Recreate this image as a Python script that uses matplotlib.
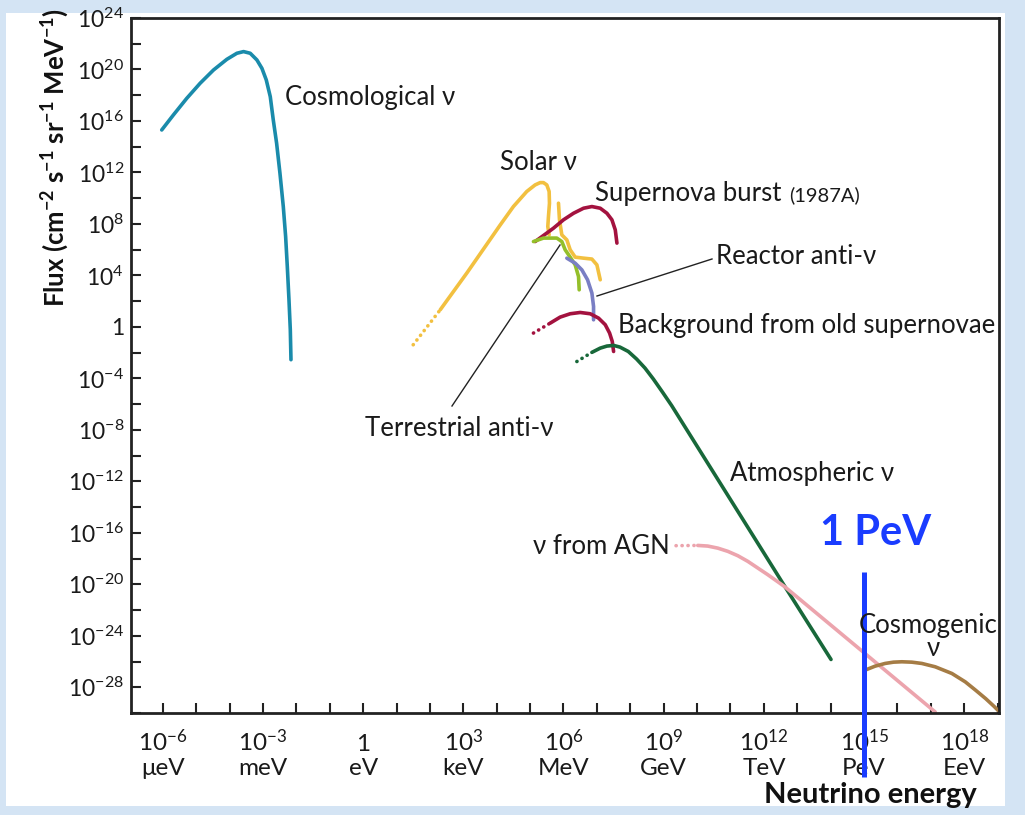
import numpy as np
import matplotlib
matplotlib.use("Agg")
import matplotlib.pyplot as plt
import matplotlib.patches as mpatches
import matplotlib.lines as mlines
import matplotlib.transforms as mtransforms
from matplotlib.ticker import FixedLocator, FixedFormatter, NullFormatter

plt.rcParams['font.family'] = ['Lato', 'DejaVu Sans']
plt.rcParams['mathtext.fontset'] = 'custom'
plt.rcParams['mathtext.rm'] = 'Lato'
plt.rcParams['mathtext.it'] = 'Lato:italic'
plt.rcParams['mathtext.bf'] = 'Lato:bold'

# ---------------- data: log10(E / eV), log10(flux) ----------------
cosmo_log_e = [-6.03, -5.68, -5.28, -4.88, -4.48, -4.08, -3.78, -3.58, -3.38, -3.18, -3.03, -2.90,
               -2.78, -2.69, -2.59, -2.49, -2.39, -2.32, -2.27, -2.22, -2.18, -2.16]
cosmo_log_f = [15.30, 16.47, 17.76, 18.93, 19.96, 20.79, 21.26, 21.39, 21.26, 20.74, 20.09, 19.19,
               17.89, 16.08, 14.27, 11.94, 9.35, 7.02, 4.69, 2.11, -0.22, -2.55]

solar_dot_log_e = [1.50, 2.31]
solar_dot_log_f = [-1.39, 1.33]
solar_log_e = [2.31, 3.11, 4.10, 4.50, 4.90, 5.15, 5.30, 5.40, 5.50, 5.57, 5.58, 5.55, 5.53, 5.57]
solar_log_f = [1.33, 4.20, 7.90, 9.35, 10.52, 11.03, 11.21, 11.21, 11.03, 10.52, 9.61, 8.58, 7.80, 7.15]
solar2_log_e = [5.85, 5.88, 5.95, 6.10, 6.20, 6.35, 6.60, 6.85, 7.00, 7.10]
solar2_log_f = [9.61, 8.32, 7.15, 6.76, 5.99, 5.42, 5.34, 5.27, 4.82, 3.66]

terr_log_e = [5.10, 5.40, 5.80, 5.95, 6.05, 6.20, 6.35, 6.45, 6.47]
terr_log_f = [6.63, 6.90, 6.90, 6.63, 5.99, 5.42, 4.82, 3.91, 2.88]

reactor_log_e = [6.10, 6.35, 6.55, 6.72, 6.85, 6.90, 6.90]
reactor_log_f = [5.34, 4.95, 4.43, 3.66, 2.63, 1.59, 0.55]

sn_log_e = [5.15, 5.40, 5.70, 6.00, 6.30, 6.60, 6.85, 7.10, 7.30, 7.45, 7.55, 7.60]
sn_log_f = [6.63, 7.10, 7.67, 8.32, 8.83, 9.22, 9.35, 9.22, 8.83, 8.32, 7.54, 6.51]

bg_dot_log_e = [5.10, 5.60]
bg_dot_log_f = [-0.48, 0.29]
bg_log_e = [5.60, 5.90, 6.20, 6.50, 6.80, 7.05, 7.25, 7.38, 7.46, 7.50]
bg_log_f = [0.29, 0.76, 1.02, 1.12, 1.02, 0.68, 0.17, -0.48, -1.13, -1.91]

atm_dot_log_e = [6.40, 6.85]
atm_dot_log_f = [-2.69, -1.98]
atm_log_e = [6.85, 7.10, 7.30, 7.50, 7.69, 7.94, 8.19, 8.44, 8.69, 8.97, 9.24, 12.63, 14.01]
atm_log_f = [-1.98, -1.65, -1.49, -1.44, -1.57, -1.91, -2.50, -3.20, -4.05, -5.09, -6.12, -20.18, -25.84]

agn_dot_log_e = [9.37, 10.02]
agn_dot_log_f = [-17.0, -16.98]
agn_log_e = [10.02, 10.32, 10.62, 10.92, 11.22, 11.52, 11.82, 12.12, 12.62, 13.62, 15.13, 16.13, 17.13]
agn_log_f = [-16.98, -17.03, -17.19, -17.44, -17.78, -18.22, -18.74, -19.26, -20.18, -22.34, -25.60, -27.76, -29.92]

cosmogenic_log_e = [15.03, 15.33, 15.63, 15.88, 16.13, 16.43, 16.73, 17.13, 17.63, 18.03, 18.34, 18.64, 18.89, 19.09]
cosmogenic_log_f = [-26.67, -26.36, -26.15, -26.05, -26.02, -26.05, -26.15, -26.41, -26.93, -27.58, -28.23, -28.88, -29.48, -30.0]

pev_energy = 1e15

x_tick_exps = [-6, -3, 0, 3, 6, 9, 12, 15, 18]
x_tick_units = ['μeV', 'meV', 'eV', 'keV', 'MeV', 'GeV', 'TeV', 'PeV', 'EeV']
y_tick_exps = [24, 20, 16, 12, 8, 4, 0, -4, -8, -12, -16, -20, -24, -28]

# ---------------- figure ----------------
W, H = 1025, 815
fig = plt.figure(figsize=(W / 100, H / 100), dpi=100)
fig.patch.set_facecolor('#d4e4f4')
fig.patches.append(mpatches.Rectangle((6 / W, 1 - 806 / H), (1005 - 6) / W, (806 - 13) / H,
                                      transform=fig.transFigure, facecolor='white',
                                      edgecolor='none', zorder=-5))

def fx(x):
    return x / W

def fy(y):
    return 1 - y / H

AX_TOP, AX_BOT = 18, 713
ax = fig.add_axes([fx(131), fy(AX_BOT), (999 - 131) / W, (AX_BOT - AX_TOP) / H])
ax.set_zorder(1)
ax.set_xscale('log')
ax.set_yscale('log')
ax.set_xlim(10 ** -6.95, 10 ** 19.04)
ax.set_ylim(1e-30, 1e24)
ax.set_facecolor('none')

for s in ax.spines.values():
    s.set_linewidth(2.0)
    s.set_color('#222222')

def ay(ypix):
    # figure pixel row -> axes fraction
    return (AX_BOT - ypix) / (AX_BOT - AX_TOP)

# x ticks (labels drawn manually, two lines, baseline aligned)
ax.xaxis.set_major_locator(FixedLocator([10.0 ** e for e in x_tick_exps]))
ax.xaxis.set_major_formatter(NullFormatter())
ax.xaxis.set_minor_locator(FixedLocator([10.0 ** e for e in range(-6, 20) if e % 3 != 0]))
ax.xaxis.set_minor_formatter(NullFormatter())

xtrans = mtransforms.blended_transform_factory(ax.transData, ax.transAxes)
for e, u in zip(x_tick_exps, x_tick_units):
    num = '1' if e == 0 else '$\\mathregular{10^{%d}}$' % e
    ax.text(10.0 ** e, ay(751), num, transform=xtrans, ha='center', va='baseline',
            fontsize=17.5, color='#1a1a1a', clip_on=False)
    ax.text(10.0 ** e, ay(775), u, transform=xtrans, ha='center', va='baseline',
            fontsize=17.5, color='#1a1a1a', clip_on=False)

# y ticks
ax.yaxis.set_major_locator(FixedLocator([10.0 ** e for e in y_tick_exps]))
ylabels = ['1' if e == 0 else '$\\mathregular{10^{%d}}$' % e for e in y_tick_exps]
ax.yaxis.set_major_formatter(FixedFormatter(ylabels))
ax.yaxis.set_minor_locator(FixedLocator([10.0 ** e for e in range(-30, 24, 2) if e % 4 != 0]))
ax.yaxis.set_minor_formatter(NullFormatter())

ax.tick_params(which='both', direction='in', length=7, width=1.5, color='#222222')
ax.tick_params(axis='y', which='major', labelsize=16.5, pad=5, labelcolor='#1a1a1a')

# ---------------- curves ----------------
LW = 2.6
DOT = dict(linestyle=(0, (0.05, 1.6)), dash_capstyle='round', lw=LW)

def P(le, lf):
    return 10.0 ** np.asarray(le), 10.0 ** np.asarray(lf)

c_cosmo = '#1a8bab'
c_solar = '#f2c040'
c_sn = '#a3123f'
c_terr = '#94bf2a'
c_reac = '#7a7fc4'
c_atm = '#18683a'
c_agn = '#eca4ad'
c_cgen = '#a57c45'
c_blue = '#1a3cff'

SOL = dict(lw=LW, solid_capstyle='round', solid_joinstyle='round')
ax.plot(*P(cosmo_log_e, cosmo_log_f), color=c_cosmo, **SOL)
ax.plot(*P(solar_dot_log_e, solar_dot_log_f), color=c_solar, **DOT)
ax.plot(*P(solar_log_e, solar_log_f), color=c_solar, **SOL)
ax.plot(*P(solar2_log_e, solar2_log_f), color=c_solar, **SOL)
ax.plot(*P(sn_log_e, sn_log_f), color=c_sn, **SOL)
ax.plot(*P(terr_log_e, terr_log_f), color=c_terr, **SOL)
ax.plot(*P(reactor_log_e, reactor_log_f), color=c_reac, **SOL)
ax.plot(*P(bg_dot_log_e, bg_dot_log_f), color=c_sn, **DOT)
ax.plot(*P(bg_log_e, bg_log_f), color=c_sn, **SOL)
ax.plot(*P(atm_dot_log_e, atm_dot_log_f), color=c_atm, **DOT)
ax.plot(*P(atm_log_e, atm_log_f), color=c_atm, **SOL)
ax.plot(*P(agn_dot_log_e, agn_dot_log_f), color=c_agn, **DOT)
ax.plot(*P(agn_log_e, agn_log_f), color=c_agn, **SOL)
ax.plot(*P(cosmogenic_log_e, cosmogenic_log_f), color=c_cgen, **SOL)

# ---------------- labels ----------------
TXT = dict(fontsize=18.5, color='#1a1a1a', va='center')
fig.text(fx(285), fy(98), 'Cosmological ν', ha='left', **TXT)
fig.text(fx(538), fy(162), 'Solar ν', ha='center', **TXT)
fig.text(fx(595), fy(194), 'Supernova burst', ha='left', **TXT)
fig.text(fx(789), fy(195), '(1987A)', ha='left', fontsize=14.5, color='#1a1a1a', va='center')
fig.text(fx(716), fy(257), 'Reactor anti-ν', ha='left', **TXT)
fig.text(fx(618), fy(326), 'Background from old supernovae', ha='left', **TXT)
fig.text(fx(365), fy(428), 'Terrestrial anti-ν', ha='left', **TXT)
fig.text(fx(730), fy(473), 'Atmospheric ν', ha='left', **TXT)
fig.text(fx(533), fy(547), 'ν from AGN', ha='left', **TXT)
fig.text(fx(928), fy(625), 'Cosmogenic', ha='center', **TXT)
fig.text(fx(933), fy(649), 'ν', ha='center', **TXT)

# leader lines
fig.add_artist(mlines.Line2D([fx(597), fx(712)], [fy(296), fy(259)], color='#222222', lw=1.0, zorder=3))
fig.add_artist(mlines.Line2D([fx(560), fx(452)], [fy(245), fy(406)], color='#222222', lw=1.0, zorder=3))

# 1 PeV marker
ax.plot([pev_energy, pev_energy], [ay(572), ay(777)], transform=xtrans,
        color=c_blue, lw=3.6, clip_on=False, zorder=10, solid_capstyle='butt')
fig.text(fx(876), fy(533), '1 PeV', ha='center', va='center', fontsize=30,
         fontweight='bold', color=c_blue)

# axis titles
fig.text(fx(55), fy(158), 'Flux (cm$\\mathregular{^{-2}}$ s$\\mathregular{^{-1}}$ sr$\\mathregular{^{-1}}$ MeV$\\mathregular{^{-1}}$)',
         rotation=90, ha='center', va='center', fontsize=18.5, fontweight='bold', color='#111111')
fig.text(fx(870), fy(795), 'Neutrino energy', ha='center', va='center', fontsize=21,
         fontweight='bold', color='#111111')

fig.savefig('out.png', dpi=100, facecolor=fig.get_facecolor())
